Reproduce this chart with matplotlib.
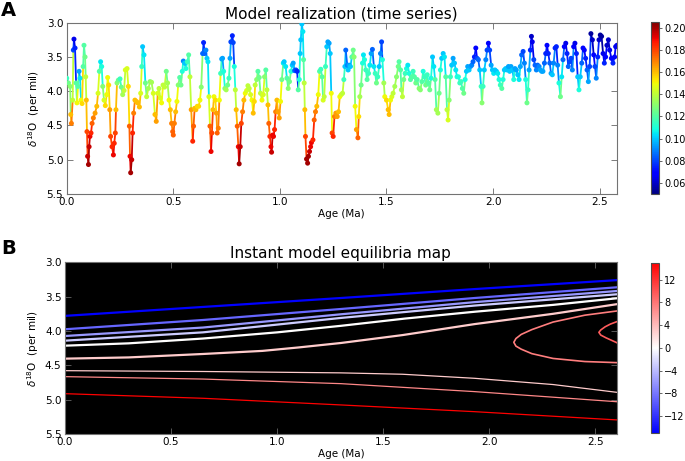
import numpy as np
import matplotlib
matplotlib.use("Agg")
import matplotlib.pyplot as plt
from matplotlib.collections import LineCollection
from matplotlib.colors import Normalize
from matplotlib.cm import ScalarMappable
from matplotlib.ticker import FormatStrFormatter

# Datos panel A: edad (Ma), d18O (per mil) y valor del color
edad = [0.000, 0.008, 0.016, 0.019, 0.022, 0.028, 0.031, 0.034, 0.039, 0.044, 0.048, 0.053, 0.058, 0.0625, 0.067, 0.072,
        0.077, 0.081, 0.086, 0.089, 0.092, 0.095, 0.098, 0.102, 0.105, 0.109, 0.114, 0.119, 0.125, 0.133, 0.141, 0.147,
        0.153, 0.159, 0.164, 0.169, 0.175, 0.181, 0.1875, 0.192, 0.197, 0.202, 0.206, 0.2125, 0.219, 0.223, 0.228, 0.231,
        0.236, 0.242, 0.250, 0.256, 0.2625, 0.269, 0.275, 0.283, 0.289, 0.294, 0.297, 0.300, 0.305, 0.309, 0.314, 0.320,
        0.327, 0.333, 0.341, 0.347, 0.352, 0.356, 0.3625, 0.369, 0.375, 0.383, 0.391, 0.398, 0.406, 0.414, 0.420, 0.427,
        0.433, 0.439, 0.445, 0.452, 0.459, 0.467, 0.473, 0.480, 0.486, 0.492, 0.497, 0.500, 0.505, 0.511, 0.517, 0.523,
        0.530, 0.536, 0.542, 0.547, 0.553, 0.559, 0.566, 0.572, 0.578, 0.584, 0.591, 0.595, 0.600, 0.606, 0.6125, 0.619,
        0.625, 0.631, 0.6375, 0.642, 0.647, 0.653, 0.658, 0.6625, 0.667, 0.672, 0.677, 0.681, 0.686, 0.691, 0.697, 0.702,
        0.706, 0.711, 0.716, 0.722, 0.727, 0.731, 0.736, 0.742, 0.748, 0.755, 0.761, 0.766, 0.770, 0.777, 0.781, 0.786,
        0.791, 0.795, 0.800, 0.805, 0.809, 0.814, 0.819, 0.825, 0.831, 0.8375, 0.844, 0.850, 0.856, 0.8625, 0.869, 0.875,
        0.880, 0.884, 0.891, 0.897, 0.903, 0.909, 0.916, 0.922, 0.928, 0.934, 0.939, 0.944, 0.948, 0.953, 0.958, 0.961,
        0.966, 0.970, 0.975, 0.980, 0.986, 0.991, 0.997, 1.003, 1.009, 1.016, 1.020, 1.027, 1.033, 1.039, 1.045, 1.052,
        1.058, 1.0625, 1.069, 1.075, 1.081, 1.086, 1.091, 1.095, 1.098, 1.103, 1.108, 1.111, 1.114, 1.117, 1.120, 1.125,
        1.130, 1.134, 1.139, 1.144, 1.148, 1.155, 1.161, 1.167, 1.173, 1.180, 1.186, 1.192, 1.198, 1.203, 1.208, 1.214,
        1.220, 1.225, 1.231, 1.236, 1.241, 1.245, 1.250, 1.256, 1.2625, 1.269, 1.275, 1.281, 1.2875, 1.294, 1.300, 1.305,
        1.309, 1.316, 1.320, 1.325, 1.331, 1.3375, 1.344, 1.348, 1.353, 1.359, 1.366, 1.370, 1.375, 1.381, 1.3875, 1.392,
        1.397, 1.403, 1.409, 1.416, 1.422, 1.428, 1.434, 1.441, 1.447, 1.453, 1.459, 1.466, 1.472, 1.477, 1.481, 1.4875,
        1.492, 1.500, 1.508, 1.5125, 1.519, 1.525, 1.531, 1.539, 1.547, 1.555, 1.559, 1.566, 1.570, 1.575, 1.581, 1.5875,
        1.594, 1.600, 1.606, 1.6125, 1.619, 1.625, 1.631, 1.6375, 1.644, 1.653, 1.659, 1.666, 1.672, 1.678, 1.684, 1.691,
        1.697, 1.703, 1.709, 1.716, 1.722, 1.728, 1.734, 1.741, 1.747, 1.753, 1.759, 1.766, 1.772, 1.778, 1.784, 1.789,
        1.794, 1.800, 1.806, 1.8125, 1.819, 1.825, 1.831, 1.8375, 1.844, 1.850, 1.856, 1.8625, 1.869, 1.875, 1.881, 1.8875,
        1.894, 1.900, 1.906, 1.9125, 1.919, 1.925, 1.931, 1.9375, 1.944, 1.948, 1.953, 1.959, 1.966, 1.972, 1.978, 1.984,
        1.991, 1.997, 2.003, 2.009, 2.016, 2.022, 2.028, 2.034, 2.041, 2.047, 2.053, 2.059, 2.066, 2.072, 2.078, 2.084,
        2.091, 2.097, 2.103, 2.109, 2.116, 2.122, 2.128, 2.134, 2.141, 2.147, 2.153, 2.159, 2.164, 2.169, 2.175, 2.180,
        2.184, 2.191, 2.197, 2.203, 2.209, 2.216, 2.222, 2.228, 2.234, 2.241, 2.247, 2.253, 2.259, 2.266, 2.272, 2.278,
        2.284, 2.291, 2.297, 2.303, 2.309, 2.316, 2.322, 2.328, 2.334, 2.341, 2.347, 2.353, 2.359, 2.366, 2.372, 2.378,
        2.384, 2.391, 2.397, 2.403, 2.409, 2.416, 2.422, 2.428, 2.434, 2.441, 2.447, 2.453, 2.459, 2.466, 2.472, 2.478,
        2.484, 2.491, 2.497, 2.503, 2.509, 2.516, 2.522, 2.528, 2.534, 2.541, 2.547, 2.555, 2.5625, 2.570, 2.575, 2.581]

d18o = [3.81, 3.88, 3.93, 4.34, 4.47, 4.13, 3.40, 3.24, 3.37, 3.88, 4.17, 3.93, 3.71, 3.81, 4.13, 4.18,
        3.64, 3.33, 3.50, 3.79, 4.13, 4.59, 4.95, 5.07, 4.81, 4.66, 4.61, 4.47, 4.39, 4.32, 4.22, 4.03,
        3.71, 3.57, 3.64, 3.93, 4.13, 4.21, 4.05, 3.80, 3.91, 4.27, 4.66, 4.81, 4.93, 4.76, 4.61, 4.27,
        3.88, 3.84, 3.82, 3.94, 4.05, 3.99, 3.69, 3.67, 3.93, 4.51, 4.95, 5.19, 5.00, 4.61, 4.32, 4.13,
        4.15, 4.17, 4.23, 4.03, 3.64, 3.35, 3.47, 3.88, 4.08, 3.96, 3.86, 3.87, 4.03, 4.34, 4.44, 4.03,
        3.96, 4.10, 4.17, 3.91, 3.94, 3.71, 3.88, 4.13, 4.27, 4.47, 4.59, 4.64, 4.47, 4.30, 4.15, 3.91,
        3.80, 3.91, 3.71, 3.56, 3.59, 3.67, 3.57, 3.47, 3.79, 4.27, 4.73, 4.51, 4.25, 4.27, 4.22, 4.22,
        4.13, 3.94, 3.45, 3.29, 3.45, 3.40, 3.52, 3.57, 4.08, 4.51, 4.88, 4.61, 4.27, 4.08, 4.13, 4.32,
        4.61, 4.54, 4.13, 3.74, 3.53, 3.52, 3.71, 3.96, 3.98, 3.91, 3.81, 3.52, 3.28, 3.19, 3.29, 3.64,
        3.98, 4.27, 4.51, 4.81, 5.06, 4.81, 4.47, 4.30, 4.13, 4.03, 3.99, 3.92, 3.96, 4.05, 4.13, 4.32,
        4.15, 3.91, 3.83, 3.71, 3.80, 4.03, 4.13, 4.05, 3.79, 3.69, 3.98, 4.20, 4.47, 4.66, 4.81, 4.89,
        4.64, 4.66, 4.56, 4.30, 4.13, 4.30, 4.39, 4.15, 3.83, 3.59, 3.57, 3.64, 3.81, 3.96, 3.86, 3.71,
        3.62, 3.59, 3.70, 3.69, 3.71, 3.98, 3.83, 3.45, 3.25, 3.02, 3.13, 3.54, 3.88, 4.27, 4.66, 4.99,
        5.05, 4.95, 4.88, 4.81, 4.75, 4.71, 4.42, 4.30, 4.22, 4.05, 3.71, 3.68, 3.79, 4.13, 4.08, 3.64,
        3.35, 3.28, 3.30, 3.45, 4.03, 4.61, 4.66, 4.37, 4.32, 4.37, 4.30, 4.08, 4.05, 4.03, 3.83, 3.64,
        3.40, 3.62, 3.69, 3.62, 3.64, 3.50, 3.40, 3.50, 4.22, 4.56, 4.68, 4.37, 4.08, 3.91, 3.59, 3.47,
        3.54, 3.69, 3.83, 3.74, 3.62, 3.45, 3.39, 3.64, 3.74, 3.88, 3.79, 3.64, 3.45, 3.28, 3.54, 3.88,
        4.08, 4.13, 4.27, 4.34, 4.13, 4.08, 4.03, 3.93, 3.79, 3.64, 3.57, 3.69, 3.98, 4.08, 3.83, 3.74,
        3.67, 3.62, 3.74, 3.83, 3.79, 3.71, 3.79, 3.88, 3.83, 3.96, 3.98, 3.86, 3.71, 3.79, 3.91, 3.76,
        3.88, 3.98, 3.81, 3.50, 3.64, 3.83, 4.27, 4.32, 4.03, 3.69, 3.52, 3.45, 3.50, 3.79, 4.27, 4.42,
        4.13, 3.79, 3.62, 3.52, 3.59, 3.69, 3.79, 3.79, 3.88, 3.86, 3.96, 4.03, 3.83, 3.71, 3.64, 3.69,
        3.64, 3.62, 3.57, 3.50, 3.37, 3.52, 3.54, 3.69, 3.93, 4.17, 3.93, 3.69, 3.54, 3.40, 3.30, 3.40,
        3.62, 3.69, 3.74, 3.69, 3.71, 3.74, 3.83, 3.91, 3.96, 3.83, 3.69, 3.67, 3.69, 3.64, 3.71, 3.64,
        3.69, 3.83, 3.67, 3.69, 3.76, 3.83, 3.64, 3.47, 3.42, 3.59, 3.83, 4.17, 3.98, 3.69, 3.40, 3.20,
        3.28, 3.54, 3.62, 3.69, 3.62, 3.64, 3.69, 3.71, 3.71, 3.59, 3.45, 3.33, 3.45, 3.59, 3.74, 3.76,
        3.59, 3.37, 3.35, 3.62, 3.88, 4.08, 3.79, 3.54, 3.35, 3.30, 3.45, 3.64, 3.57, 3.52, 3.69, 3.35,
        3.30, 3.45, 3.79, 3.98, 3.79, 3.59, 3.37, 3.40, 3.52, 3.69, 3.86, 3.64, 3.16, 3.25, 3.47, 3.64,
        3.81, 3.50, 3.25, 3.18, 3.20, 3.45, 3.59, 3.50, 3.33, 3.25, 3.40, 3.52, 3.59, 3.50, 3.35, 3.33]

color_val = [.115, .125, .13, .16, .17, .14, .08, .065, .075, .12, .15, .12, .095, .105, .15, .155,
             .12, .12, .125, .14, .16, .18, .195, .20, .195, .19, .185, .175, .17, .165, .16, .145,
             .12, .105, .11, .13, .145, .155, .15, .15, .155, .165, .18, .185, .19, .185, .18, .16,
             .13, .125, .115, .125, .135, .14, .145, .145, .155, .175, .19, .20, .195, .185, .17, .16,
             .16, .16, .16, .145, .115, .10, .105, .125, .14, .135, .13, .135, .145, .16, .165, .145,
             .14, .145, .15, .14, .14, .125, .135, .15, .16, .17, .175, .175, .17, .16, .15, .13,
             .12, .125, .11, .09, .10, .11, .115, .12, .14, .165, .185, .175, .16, .16, .155, .155,
             .15, .13, .085, .075, .085, .09, .10, .105, .145, .175, .19, .18, .16, .15, .155, .165,
             .175, .17, .15, .115, .095, .095, .11, .13, .135, .125, .115, .095, .08, .075, .08, .11,
             .14, .16, .175, .19, .20, .195, .18, .17, .16, .15, .145, .14, .14, .145, .15, .16,
             .155, .14, .13, .12, .125, .14, .15, .145, .13, .12, .14, .16, .175, .185, .19, .195,
             .19, .19, .185, .17, .16, .165, .165, .15, .125, .105, .10, .105, .12, .13, .125, .11,
             .10, .095, .085, .08, .075, .12, .11, .10, .10, .10, .105, .12, .14, .16, .18, .20,
             .20, .20, .195, .19, .19, .185, .175, .17, .16, .15, .12, .115, .12, .145, .14, .115,
             .10, .095, .095, .10, .15, .18, .185, .17, .165, .165, .16, .15, .145, .14, .115, .10,
             .085, .09, .10, .095, .10, .12, .125, .13, .15, .165, .175, .155, .135, .125, .11, .105,
             .11, .115, .12, .115, .105, .095, .085, .105, .115, .125, .115, .10, .09, .08, .11, .135,
             .15, .155, .16, .16, .15, .145, .14, .135, .13, .125, .12, .12, .135, .14, .125, .115,
             .11, .105, .11, .12, .12, .115, .12, .125, .12, .13, .13, .12, .11, .115, .125, .115,
             .12, .125, .11, .10, .105, .12, .135, .135, .125, .11, .10, .10, .105, .12, .14, .145,
             .13, .115, .10, .095, .10, .105, .11, .11, .115, .115, .12, .125, .11, .10, .095, .10,
             .095, .09, .085, .075, .07, .08, .085, .10, .115, .13, .115, .10, .09, .08, .07, .08,
             .095, .10, .105, .10, .10, .105, .11, .115, .12, .11, .10, .10, .10, .095, .10, .095,
             .10, .11, .095, .095, .10, .105, .095, .085, .08, .09, .11, .125, .115, .095, .075, .06,
             .065, .08, .085, .09, .085, .09, .095, .095, .095, .085, .075, .07, .075, .085, .095, .10,
             .09, .075, .075, .09, .11, .125, .105, .085, .07, .065, .075, .085, .08, .08, .09, .07,
             .065, .075, .10, .11, .10, .085, .07, .07, .075, .085, .095, .08, .055, .06, .07, .08,
             .09, .075, .06, .055, .055, .065, .075, .07, .06, .06, .065, .07, .075, .07, .065, .065]

# Datos panel B: curvas de equilibrio (edad, d18O) y su nivel
curvas_edad = [
    [0.0, 0.65, 1.3, 1.93, 2.6],
    [0.0, 0.65, 1.3, 1.93, 2.6],
    [0.0, 0.65, 1.3, 1.93, 2.6],
    [0.0, 0.65, 1.3, 1.93, 2.6],
    [0.0, 0.3, 0.65, 1.0, 1.3, 1.6, 1.93, 2.3, 2.6],
    [0.0, 0.3, 0.65, 0.93, 1.1, 1.3, 1.59, 1.93, 2.3, 2.6],
    [2.6, 2.45, 2.3, 2.2, 2.15, 2.125, 2.115, 2.125, 2.15, 2.2, 2.3, 2.45, 2.6],
    [2.6, 2.57, 2.545, 2.525, 2.516, 2.525, 2.55, 2.6],
    [0.0, 0.65, 1.3, 1.59, 1.93, 2.3, 2.6],
    [0.0, 0.65, 1.3, 1.93, 2.6],
    [0.0, 0.65, 1.3, 1.93, 2.6],
]
curvas_d18o = [
    [3.78, 3.65, 3.52, 3.39, 3.26],
    [3.975, 3.84, 3.68, 3.52, 3.364],
    [4.073, 3.95, 3.757, 3.58, 3.418],
    [4.141, 4.02, 3.81, 3.63, 3.466],
    [4.214, 4.18, 4.11, 4.02, 3.925, 3.82, 3.72, 3.62, 3.524],
    [4.403, 4.385, 4.335, 4.29, 4.24, 4.175, 4.06, 3.90, 3.75, 3.61],
    [3.709, 3.77, 3.87, 3.98, 4.05, 4.11, 4.165, 4.22, 4.265, 4.33, 4.40, 4.445, 4.461],
    [3.865, 3.90, 3.94, 3.985, 4.02, 4.06, 4.10, 4.17],
    [4.578, 4.59, 4.61, 4.63, 4.689, 4.78, 4.893],
    [4.665, 4.70, 4.767, 4.883, 5.03],
    [4.913, 4.98, 5.077, 5.175, 5.295],
]
curvas_nivel = [-15, -9, -6, -3, 0, 3, 7.5, 9.5, 3, 7, 15]
curvas_grosor = [1.6, 1.6, 1.6, 1.6, 1.6, 1.6, 1.2, 1.2, 0.9, 0.9, 0.9]

ticks_a = [0.06, 0.08, 0.10, 0.12, 0.14, 0.16, 0.18, 0.20]
ticks_b = [-12, -8, -4, 0, 4, 8, 12]

fs = 7.5
fig = plt.figure(figsize=(6.85, 4.61), dpi=100)

# Panel A: serie de tiempo
ax1 = fig.add_axes([0.0974, 0.5792, 0.8029, 0.3716])
norm_a = Normalize(vmin=0.0503, vmax=0.205)
cmap_a = plt.get_cmap('jet')
x = np.array(edad)
y = np.array(d18o)
c = np.array(color_val)
seg = np.stack([np.column_stack([x[:-1], y[:-1]]), np.column_stack([x[1:], y[1:]])], axis=1)
lc = LineCollection(seg, colors=cmap_a(norm_a(c[:-1])), linewidths=1.3)
ax1.add_collection(lc)
ax1.scatter(x, y, c=c, cmap=cmap_a, norm=norm_a, s=13, linewidths=0, zorder=3)
ax1.set_xlim(0, 2.58)
ax1.set_ylim(5.5, 3.0)
ax1.set_title("Model realization (time series)", fontsize=11, pad=3)
ax1.set_xlabel("Age (Ma)", fontsize=fs, labelpad=1)
ax1.set_ylabel(r"$\delta^{18}$O  (per mil)", fontsize=fs, labelpad=3)

# Panel B: mapa de equilibrios
ax2 = fig.add_axes([0.0949, 0.0586, 0.8054, 0.3724])
ax2.set_facecolor('black')
norm_b = Normalize(vmin=-15, vmax=15)
cmap_b = plt.get_cmap('bwr')
for ex, dy, nv, lw in zip(curvas_edad, curvas_d18o, curvas_nivel, curvas_grosor):
    ax2.plot(ex, dy, color=cmap_b(norm_b(nv)), lw=lw)
ax2.set_xlim(0, 2.6)
ax2.set_ylim(5.5, 3.0)
ax2.set_title("Instant model equilibria map", fontsize=11, pad=3)
ax2.set_xlabel("Age (Ma)", fontsize=fs, labelpad=1)
ax2.set_ylabel(r"$\delta^{18}$O  (per mil)", fontsize=fs, labelpad=3)

for ax in [ax1, ax2]:
    ax.set_xticks([0.0, 0.5, 1.0, 1.5, 2.0, 2.5])
    ax.set_yticks([3.0, 3.5, 4.0, 4.5, 5.0, 5.5])
    ax.xaxis.set_major_formatter(FormatStrFormatter('%.1f'))
    ax.yaxis.set_major_formatter(FormatStrFormatter('%.1f'))
    ax.tick_params(direction='in', top=True, right=True, labelsize=fs, length=4, width=0.6, color='0.4', pad=2.5)
    for s in ax.spines.values():
        s.set_color('0.45')
        s.set_linewidth(0.8)

# Barras de color
cax1 = fig.add_axes([0.9504, 0.5792, 0.0117, 0.3731])
cb1 = fig.colorbar(ScalarMappable(norm=norm_a, cmap=cmap_a), cax=cax1, ticks=ticks_a)
cb1.ax.set_yticklabels([f"{t:.2f}" for t in ticks_a])
cax2 = fig.add_axes([0.9504, 0.0607, 0.0117, 0.3695])
cb2 = fig.colorbar(ScalarMappable(norm=norm_b, cmap=cmap_b), cax=cax2, ticks=ticks_b)
cb2.ax.set_yticklabels(["\u2212" + str(-t) if t < 0 else str(t) for t in ticks_b])
for cb in [cb1, cb2]:
    cb.ax.tick_params(labelsize=7, length=2, width=0.6, color='0.3', pad=1.5)
    cb.outline.set_edgecolor('0.3')
    cb.outline.set_linewidth(0.8)

# Letras de panel
fig.text(0.002, 0.998, "A", fontsize=14, fontweight='bold', va='top', ha='left')
fig.text(0.002, 0.482, "B", fontsize=14, fontweight='bold', va='top', ha='left')

fig.savefig("out.png", dpi=100, facecolor='white')
